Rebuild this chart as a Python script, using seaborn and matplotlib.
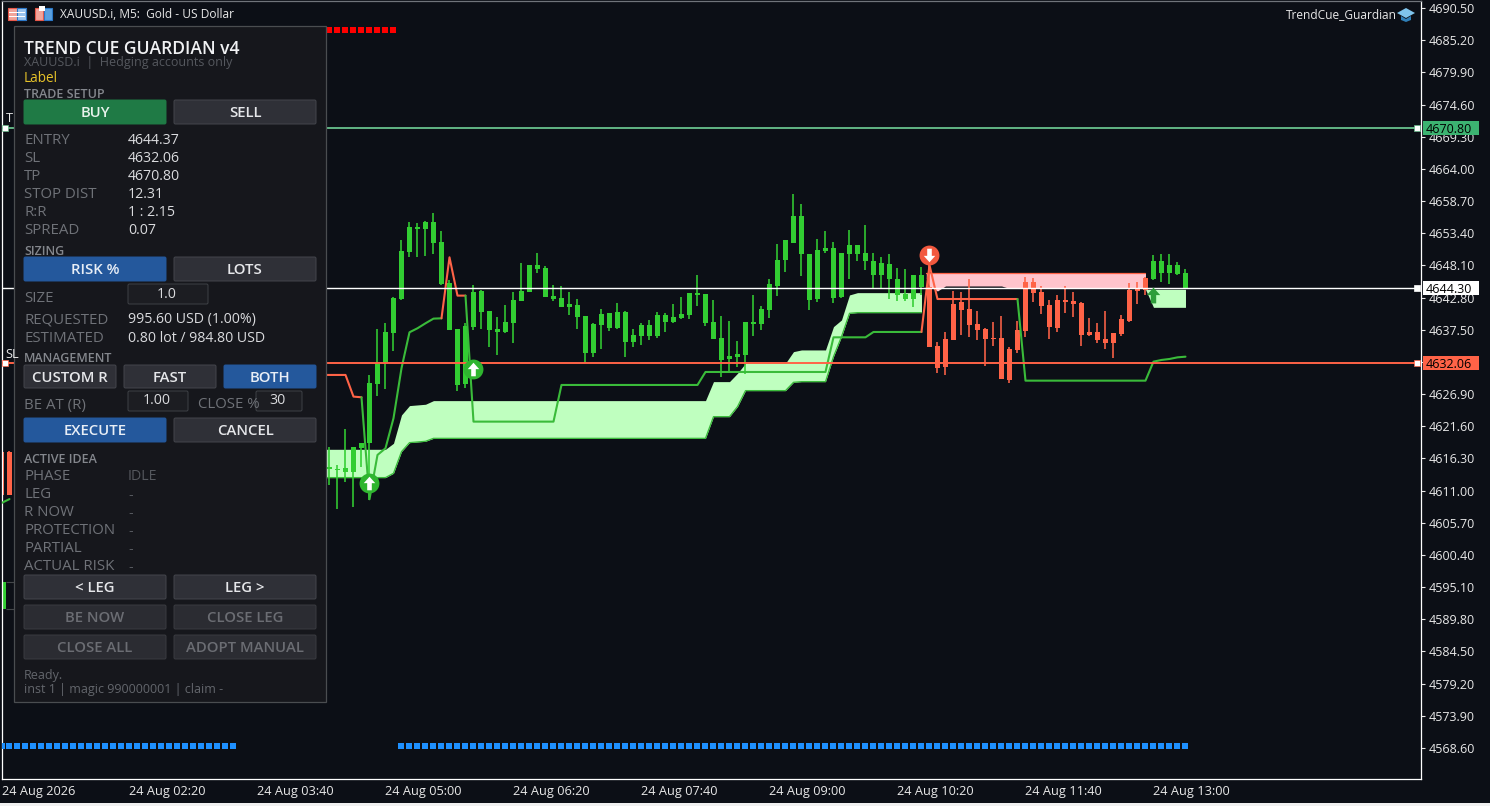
# TrendCue Guardian panel on a gold M5 chart
import numpy as np
import pandas as pd
import matplotlib
matplotlib.use("Agg")
import matplotlib.pyplot as plt
from matplotlib.patches import Rectangle, FancyBboxPatch, Polygon
from matplotlib.transforms import Affine2D
import seaborn as sns

# candles: bar number and prices, bars 2-40 sit behind the panel
candle_x = [0, 1] + list(range(41, 149))
candle_high = [4617.5, 4617.5, 4618.24, 4615.22, 4621.10, 4618.24, 4618.79, 4630.05, 4637.63, 4638.56, 4642.95, 4652.29,
               4655.31, 4655.03, 4655.47, 4656.68, 4653.82, 4645.70, 4637.63, 4638.56, 4644.87, 4644.05, 4640.65, 4639.55,
               4641.52, 4643.67, 4648.44, 4648.17, 4650.09, 4648.06, 4644.82, 4644.71, 4643.67, 4642.51, 4639.77, 4638.67,
               4640.87, 4640.32, 4641.85, 4640.65, 4637.63, 4638.56, 4639.11, 4640.37, 4640.21, 4641.69, 4642.95, 4643.61,
               4646.52, 4643.39, 4642.40, 4639.77, 4638.94, 4635.65, 4638.72, 4643.23, 4641.47, 4645.92, 4651.63, 4652.29,
               4659.86, 4658.22, 4649.98, 4652.40, 4653.82, 4651.96, 4650.20, 4653.93, 4651.46, 4654.76, 4650.09, 4649.43,
               4649.98, 4647.62, 4647.45, 4646.52, 4647.89, 4648.16, 4635.43, 4637.18, 4643.88, 4643.66, 4645.80, 4640.59,
               4637.84, 4638.77, 4639.76, 4634.60, 4638.99, 4646.13, 4646.08, 4644.71, 4642.40, 4643.22, 4644.71, 4643.72,
               4642.12, 4639.43, 4638.66, 4640.59, 4637.02, 4639.93, 4645.14, 4645.42, 4646.24, 4649.81, 4649.98, 4649.98,
               4648.60, 4647.51]
body_top = [4617.36, 4617.36, 4614.89, 4614.62, 4614.67, 4618.13, 4618.79, 4628.67, 4631.97, 4637.08, 4642.73, 4650.47,
            4654.43, 4654.43, 4655.20, 4655.25, 4651.96, 4645.15, 4637.63, 4638.17, 4643.67, 4643.83, 4640.59, 4637.57,
            4638.72, 4642.35, 4643.83, 4648.17, 4648.11, 4647.62, 4643.06, 4642.68, 4641.69, 4641.58, 4639.77, 4638.39,
            4640.04, 4640.21, 4640.37, 4640.48, 4636.64, 4638.28, 4638.28, 4639.93, 4639.93, 4639.55, 4640.10, 4643.56,
            4643.56, 4643.34, 4638.72, 4636.14, 4633.18, 4633.51, 4638.72, 4638.72, 4640.92, 4645.04, 4648.99, 4652.29,
            4656.24, 4656.24, 4649.98, 4650.64, 4650.97, 4650.91, 4650.14, 4651.46, 4651.46, 4650.14, 4648.83, 4648.50,
            4648.33, 4645.86, 4643.39, 4646.52, 4646.46, 4644.49, 4634.82, 4635.97, 4641.74, 4642.07, 4640.92, 4638.45,
            4637.68, 4636.19, 4636.14, 4634.33, 4637.46, 4645.31, 4645.31, 4643.72, 4641.58, 4642.40, 4642.40, 4642.23,
            4641.96, 4637.13, 4637.13, 4635.97, 4636.96, 4639.27, 4644.05, 4644.21, 4646.02, 4648.82, 4648.82, 4648.16,
            4648.16, 4646.85]
body_bottom = [4610.27, 4610.27, 4614.51, 4614.45, 4614.12, 4614.12, 4618.08, 4618.79, 4628.57, 4632.24, 4637.02, 4642.51,
               4650.31, 4654.10, 4654.15, 4651.85, 4645.04, 4637.46, 4628.40, 4628.51, 4638.01, 4640.48, 4637.46, 4637.13,
               4637.13, 4638.61, 4642.29, 4643.78, 4647.51, 4642.95, 4642.51, 4641.30, 4641.25, 4639.66, 4633.73, 4633.73,
               4638.28, 4637.74, 4637.85, 4635.54, 4635.48, 4636.53, 4636.53, 4636.53, 4638.78, 4638.78, 4639.44, 4639.93,
               4643.28, 4638.56, 4635.98, 4632.52, 4632.63, 4633.01, 4633.34, 4638.45, 4638.45, 4640.76, 4644.71, 4648.99,
               4651.85, 4649.98, 4642.40, 4642.57, 4650.42, 4642.79, 4642.84, 4649.98, 4649.98, 4648.83, 4646.52, 4646.52,
               4645.86, 4643.23, 4642.51, 4642.62, 4644.49, 4634.71, 4631.20, 4631.42, 4635.81, 4640.75, 4638.28, 4637.46,
               4635.97, 4636.03, 4629.39, 4629.22, 4634.16, 4637.29, 4643.55, 4641.41, 4637.95, 4637.79, 4642.07, 4641.74,
               4636.63, 4636.63, 4635.81, 4635.32, 4635.32, 4636.80, 4638.99, 4643.88, 4644.05, 4645.80, 4646.85, 4646.85,
               4646.68, 4644.21]
candle_low = [4610.2, 4610.2, 4611.93, 4607.92, 4612.48, 4608.36, 4614.95, 4609.46, 4626.59, 4627.74, 4634.06, 4642.40,
              4649.43, 4649.43, 4649.71, 4649.98, 4644.87, 4637.46, 4627.41, 4627.85, 4637.46, 4637.63, 4634.71, 4633.34,
              4636.91, 4635.37, 4642.29, 4643.67, 4646.80, 4642.84, 4642.29, 4641.19, 4639.93, 4637.63, 4632.24, 4632.96,
              4634.33, 4637.35, 4637.57, 4633.07, 4634.71, 4634.99, 4635.81, 4636.09, 4637.19, 4638.56, 4639.22, 4639.22,
              4641.47, 4638.17, 4635.98, 4629.77, 4630.60, 4631.42, 4630.21, 4636.53, 4637.46, 4639.38, 4643.06, 4647.07,
              4651.85, 4646.36, 4640.76, 4642.13, 4650.20, 4641.96, 4642.68, 4645.86, 4648.88, 4647.34, 4644.21, 4644.32,
              4642.57, 4642.29, 4642.29, 4641.30, 4643.22, 4634.71, 4630.32, 4630.04, 4635.81, 4636.63, 4636.36, 4635.81,
              4631.53, 4634.88, 4629.39, 4628.78, 4633.61, 4636.25, 4642.01, 4640.09, 4635.97, 4637.18, 4640.20, 4639.54,
              4634.88, 4636.47, 4635.37, 4634.33, 4632.90, 4636.47, 4638.83, 4641.74, 4643.22, 4645.69, 4645.42, 4645.03,
              4646.52, 4644.16]
bearish_bars = [0, 1] + list(range(116, 144))

# cloud bands
green_x = [40, 48, 49, 50, 51, 52, 53, 54, 88, 89, 91, 92, 93, 98, 99, 100, 103, 104, 105, 106, 107, 115]
green_up = [4617.80, 4617.80, 4618.79, 4623.46, 4625.00, 4625.11, 4625.22, 4625.82, 4625.82, 4628.95, 4628.95,
            4630.32, 4631.97, 4631.97, 4633.89, 4634.17, 4634.17, 4638.01, 4639.11, 4643.23, 4643.61, 4643.61]
green_lo = [4613.14, 4613.14, 4613.85, 4617.42, 4618.90, 4619.01, 4619.12, 4619.61, 4619.61, 4623.18, 4623.18,
            4624.83, 4627.47, 4627.47, 4628.84, 4628.95, 4628.95, 4633.07, 4636.36, 4640.21, 4640.32, 4640.32]
pink_x = [115.6, 116, 117, 118, 125, 126, 143]
pink_up = [4646.79, 4646.79, 4646.79, 4646.79, 4646.79, 4646.79, 4646.79]
pink_lo = [4646.0, 4644.60, 4643.88, 4644.71, 4644.71, 4644.30, 4644.30]
last_x = [143, 144, 148]
last_up = [4644.16, 4644.16, 4644.16]
last_lo = [4644.16, 4641.19, 4641.19]

# trail line pieces
trail_pieces = [
    ("green", [0, 1], [4608.95, 4609.60]),
    ("red", [40, 43, 44, 45], [4630.05, 4630.05, 4626.48, 4626.37]),
    ("green", [45, 46, 47, 48, 49, 50, 51, 52, 53, 54, 55],
     [4626.37, 4609.57, 4616.87, 4617.97, 4622.91, 4631.15, 4637.08, 4637.74, 4638.56, 4639.33, 4639.38]),
    ("red", [55, 56, 57, 58], [4639.38, 4649.43, 4643.12, 4643.12]),
    ("green", [58, 59, 69, 70, 87, 88, 103, 104, 108, 109, 115],
     [4643.12, 4622.36, 4622.36, 4628.40, 4628.40, 4630.54, 4630.54, 4636.25, 4636.25, 4637.13, 4637.13]),
    ("red", [115, 116, 117, 127], [4637.13, 4648.16, 4642.56, 4642.56]),
    ("green", [127, 128, 143, 144, 145, 146, 147, 148],
     [4642.56, 4629.11, 4629.11, 4632.24, 4632.52, 4632.68, 4632.95, 4633.06]),
]

# strip of squares top and bottom
red_strip_x = [41, 42, 43, 44, 45, 46, 47, 48, 49]
red_strip_price = 4686.88
blue_strip_x = list(range(0, 30)) + list(range(50, 149))
blue_strip_price = 4568.92

# signals
up_signal_x = [46, 59]
up_signal_price = [4612.25, 4631.03]
down_signal_x = [116]
down_signal_price = [4649.81]
late_arrow_x = [144]
late_arrow_price = [4643.22]

tp_price = 4670.80
entry_price = 4644.30
sl_price = 4632.06
price_ticks = [4690.50, 4685.20, 4679.90, 4674.60, 4669.30, 4664.00, 4658.70, 4653.40, 4648.10, 4642.80, 4637.50, 4632.20,
               4626.90, 4621.60, 4616.30, 4611.00, 4605.70, 4600.40, 4595.10, 4589.80, 4584.50, 4579.20, 4573.90, 4568.60]
time_tick_x = [0, 16, 32, 48, 64, 80, 96, 112, 128, 144]
time_labels = ["24 Aug 2026", "24 Aug 02:20", "24 Aug 03:40", "24 Aug 05:00", "24 Aug 06:20",
               "24 Aug 07:40", "24 Aug 09:00", "24 Aug 10:20", "24 Aug 11:40", "24 Aug 13:00"]

# panel text
trade_rows = [("ENTRY", "4644.37"), ("SL", "4632.06"), ("TP", "4670.80"),
              ("STOP DIST", "12.31"), ("R:R", "1 : 2.15"), ("SPREAD", "0.07")]
trade_rows_y = [140, 158, 176, 194, 212, 230]
idea_rows = [("PHASE", "IDLE"), ("LEG", "-"), ("R NOW", "-"), ("PROTECTION", "-"), ("PARTIAL", "-"), ("ACTUAL RISK", "-")]
idea_rows_y = [476, 494, 512, 530, 548, 566]

BG = "#0c0f16"
GREEN = "#32cd32"
RED = "#ff6347"
LINE_GREEN = "#3abb3a"

sns.set_theme(style="dark", rc={"axes.facecolor": BG, "figure.facecolor": BG})
plt.rcParams["font.family"] = ["Open Sans", "DejaVu Sans"]

fig = plt.figure(figsize=(14.9, 8.06), dpi=100)
ax = fig.add_axes([1.5 / 1490, 27 / 806, 1419.5 / 1490, 778 / 806])
ax.set_xlim(0, 177.44)
ax.set_ylim(4563.48, 4691.66)
ax.grid(False)

# bands first, candles go over them
ax.fill_between(green_x, green_lo, green_up, color="#bfffbf", lw=0, zorder=1)
ax.fill_between(pink_x, pink_lo, pink_up, color="#ffc4cc", lw=0, zorder=1)
ax.fill_between(last_x, last_lo, last_up, color="#bfffbf", lw=0, zorder=1)
sns.lineplot(x=green_x, y=green_lo, color=LINE_GREEN, lw=0.9, estimator=None, sort=False, ax=ax, zorder=1.5)
sns.lineplot(x=pink_x, y=pink_up, color=RED, lw=0.9, estimator=None, sort=False, ax=ax, zorder=1.5)

candles = pd.DataFrame({"x": candle_x, "high": candle_high, "top": body_top, "bottom": body_bottom, "low": candle_low})
candles["color"] = [RED if i in bearish_bars else GREEN for i in candle_x]
ax.vlines(candles["x"], candles["low"], candles["high"], colors=candles["color"], lw=1.15, zorder=2)
ax.bar(candles["x"], candles["top"] - candles["bottom"], bottom=candles["bottom"], width=0.72,
       color=candles["color"], lw=0, zorder=2.1)
# odd stub at the left edge, under the panel
ax.bar([0.35], [4595.94 - 4591.49], bottom=[4591.49], width=0.42, color=GREEN, lw=0, zorder=2.1)
ax.hlines([4595.94, 4591.49], 0.6, 1.6, color="#44474a", lw=0.8, zorder=2)

for colour, xs, ys in trail_pieces:
    sns.lineplot(x=xs, y=ys, color=LINE_GREEN if colour == "green" else RED, lw=1.5,
                 estimator=None, sort=False, ax=ax, zorder=3)

sns.scatterplot(x=red_strip_x, y=[red_strip_price] * len(red_strip_x), marker="s", s=25, color="#ff0000",
                linewidth=0, ax=ax, zorder=3)
sns.scatterplot(x=blue_strip_x, y=[blue_strip_price] * len(blue_strip_x), marker="s", s=25, color="#1e90ff",
                linewidth=0, ax=ax, zorder=3)

# trade levels
for price, colour, width in [(tp_price, "#62b585", 1.4), (entry_price, "#ffffff", 1.0), (sl_price, RED, 1.4)]:
    ax.hlines(price, 0, 177.0, color=colour, lw=width, zorder=3.5)
    ax.scatter([177.0], [price], marker="s", s=16, color="white", edgecolor=colour, lw=0.5, zorder=4)
for price, colour in [(tp_price, "#62b585"), (sl_price, RED)]:
    ax.scatter([0.45], [price], marker="s", s=16, color="white", edgecolor=colour, lw=0.5, zorder=4)

# signal circles and arrows
arrow_up = np.array([[0, 1], [0.85, 0.05], [0.34, 0.05], [0.34, -1], [-0.34, -1], [-0.34, 0.05], [-0.85, 0.05], [0, 1]])
arrow_down = arrow_up * np.array([1, -1])
sns.scatterplot(x=up_signal_x, y=up_signal_price, s=205, color="#2fb52f", linewidth=0, ax=ax, zorder=5)
sns.scatterplot(x=down_signal_x, y=down_signal_price, s=205, color="#f2583e", linewidth=0, ax=ax, zorder=5)
ax.scatter(up_signal_x, up_signal_price, marker=arrow_up, s=95, color="white", lw=0, zorder=5.1)
ax.scatter(down_signal_x, down_signal_price, marker=arrow_down, s=95, color="white", lw=0, zorder=5.1)
ax.scatter(late_arrow_x, late_arrow_price, marker=arrow_up, s=130, color="#2e9e3a", lw=0, zorder=5.1)

# axes cosmetics
for side in ["left", "right", "bottom", "top"]:
    ax.spines[side].set_color("white")
    ax.spines[side].set_linewidth(0.9)
ax.spines["top"].set_color("#70747a")
ax.yaxis.tick_right()
ax.set_yticks(price_ticks)
ax.set_yticklabels([f"{p:.2f}" for p in price_ticks])
ax.set_xticks(time_tick_x)
ax.set_xticklabels(time_labels, ha="left")
ax.tick_params(axis="y", colors="#e8e8e8", length=3, width=0.8, pad=2.2, labelsize=9)
ax.tick_params(axis="x", colors="#e8e8e8", length=3, width=0.8, pad=1.3, labelsize=9.2)
ax.set_xlabel("")
ax.set_ylabel("")

# price tags on the right edge
right_edge = ax.get_yaxis_transform()
for price, face in [(tp_price, "#3cb371"), (entry_price, "#ffffff"), (sl_price, "#ff6347")]:
    ax.add_patch(Rectangle((1.0012, price - 1.15), 0.0395, 2.3, transform=right_edge, fc=face, lw=0,
                           zorder=10, clip_on=False))
    ax.text(1.0035, price, f"{price:.2f}", transform=right_edge, va="center_baseline", ha="left", fontsize=9,
            color="black", zorder=11, clip_on=False)

# everything below is placed in screen pixels, y going down
px = Affine2D().scale(1, -1).translate(0, 806)


def label(x, y, s, color="#6f7278", size=10.8, weight="normal", ha="left"):
    ax.text(x, y + 1, s, transform=px, color=color, fontsize=size, fontweight=weight, ha=ha, va="center",
            zorder=22, clip_on=False)


def box(x0, y0, x1, y1, face, edge="none", z=21):
    ax.add_patch(FancyBboxPatch((x0 + 1, y0 + 1), x1 - x0 - 2, y1 - y0 - 2, boxstyle="round,pad=1,rounding_size=1.5",
                                transform=px, fc=face, ec=edge, lw=0.7, zorder=z, clip_on=False))


def button(x0, y0, x1, y1, s, face="#2f3037", text="#e6e7ea", edge="#44464c"):
    box(x0, y0, x1, y1, face, edge)
    label((x0 + x1) / 2, (y0 + y1) / 2, s, color=text, size=10.7, weight=600, ha="center")


# header
ax.add_patch(Rectangle((8, 8), 18, 12, transform=px, fc="#f2a49a", ec="#e8584a", lw=0.8, zorder=6, clip_on=False))
ax.add_patch(Rectangle((17, 8), 9, 12, transform=px, fc="#9cc4ee", ec="#2a78c8", lw=0.8, zorder=6, clip_on=False))
for y in [12, 16]:
    ax.add_patch(Rectangle((9, y), 16, 0.9, transform=px, fc="white", lw=0, zorder=7, clip_on=False))
ax.add_patch(Rectangle((35, 8), 8, 12, transform=px, fc="#f2a49a", ec="#e8584a", lw=0.8, zorder=6, clip_on=False))
ax.add_patch(Rectangle((44, 8), 8, 12, transform=px, fc="#5aa0e0", ec="#2a78c8", lw=0.8, zorder=6, clip_on=False))
ax.add_patch(Rectangle((39, 6), 6, 5, transform=px, fc="white", lw=0, zorder=7, clip_on=False))
label(60, 13.5, "XAUUSD.i, M5:  Gold - US Dollar", color="#e8e8e8", size=8.6)
label(1286, 13.5, "TrendCue_Guardian", color="#e8e8e8", size=8.6)
ax.add_patch(Polygon([(1397, 13), (1406, 8), (1415, 13), (1406, 18)], transform=px, fc="#7fc4ec", lw=0, zorder=7, clip_on=False))
ax.add_patch(Polygon([(1401, 16), (1406, 19), (1411, 16), (1411, 20), (1406, 22), (1401, 20)], transform=px,
                     fc="#2f7fb8", lw=0, zorder=7, clip_on=False))

# side labels peeking out from under the panel
label(5.5, 118, "T", color="#e8e8e8", size=9.2)
label(5, 353, "SL", color="#e8e8e8", size=9.2)

# panel body
ax.add_patch(Rectangle((14.2, 25.5), 311.5, 676, transform=px, fc="#16171c", ec="#4a4d50", lw=0.9, zorder=20, clip_on=False))
label(24, 48.5, "TREND CUE GUARDIAN v4", color="#f0f1f3", size=12.65, weight=600)
label(24, 61.5, "XAUUSD.i  |  Hedging accounts only", color="#55585e", size=9)
label(24, 77.5, "Label", color="#e6c229", size=9.8)

label(24, 93.5, "TRADE SETUP", color="#84878d", size=9, weight=600)
button(24, 100, 166, 124, "BUY", face="#1f7a45", text="#e8f3ec", edge="#1f7a45")
button(174, 100, 316, 124, "SELL")
for (name, value), y in zip(trade_rows, trade_rows_y):
    label(24, y, name)
    label(128, y, value, color="#dadbde", size=10.2)

label(24, 250.5, "SIZING", color="#84878d", size=9, weight=600)
button(24, 257, 166, 281, "RISK %", face="#24589c", text="#e8eef6", edge="#24589c")
button(174, 257, 316, 281, "LOTS")
box(128, 284, 208, 304, "#1c1d22", "#3f4247")
label(167, 293, "1.0", color="#dadbde", size=10.2, ha="center")
label(24, 297, "SIZE")
label(24, 319, "REQUESTED")
label(128, 319, "995.60 USD (1.00%)", color="#dadbde", size=10.2)
label(24, 337, "ESTIMATED")
label(128, 337, "0.80 lot / 984.80 USD", color="#dadbde", size=10.2)

label(24, 357.5, "MANAGEMENT", color="#84878d", size=9, weight=600)
button(24, 365, 116, 388, "CUSTOM R")
button(124, 365, 216, 388, "FAST")
button(224, 365, 316, 388, "BOTH", face="#24589c", text="#e8eef6", edge="#24589c")
label(24, 404, "BE AT (R)")
box(128, 391, 188, 411, "#1c1d22", "#3f4247")
label(157, 400, "1.00", color="#dadbde", size=10.2, ha="center")
label(198, 404, "CLOSE %")
box(256, 391, 302, 411, "#1c1d22", "#3f4247")
label(278, 400, "30", color="#dadbde", size=10.2, ha="center")
button(24, 418, 166, 442, "EXECUTE", face="#24589c", text="#e8eef6", edge="#24589c")
button(174, 418, 316, 442, "CANCEL")

label(24, 458.5, "ACTIVE IDEA", color="#84878d", size=9, weight=600)
for (name, value), y in zip(idea_rows, idea_rows_y):
    label(24, y, name)
    label(128, y, value, color="#55585e", size=10.2)

button(24, 575, 166, 599, "< LEG")
button(174, 575, 316, 599, "LEG >")
button(24, 605, 166, 629, "BE NOW", face="#2b2c32", text="#6b6d73", edge="#3a3c41")
button(174, 605, 316, 629, "CLOSE LEG", face="#2b2c32", text="#6b6d73", edge="#3a3c41")
button(24, 635, 166, 659, "CLOSE ALL", face="#2b2c32", text="#6b6d73", edge="#3a3c41")
button(174, 635, 316, 659, "ADOPT MANUAL", face="#2b2c32", text="#6b6d73", edge="#3a3c41")
label(24, 674, "Ready.", color="#63666c", size=9)
label(24, 688, "inst 1 | magic 990000001 | claim -", color="#63666c", size=9)

# light strip of the window frame along the bottom
fig.add_artist(Rectangle((0, 0), 1, 3 / 806, transform=fig.transFigure, fc="#f0f0f0", lw=0))

fig.savefig("out.png", dpi=100, facecolor=BG)
